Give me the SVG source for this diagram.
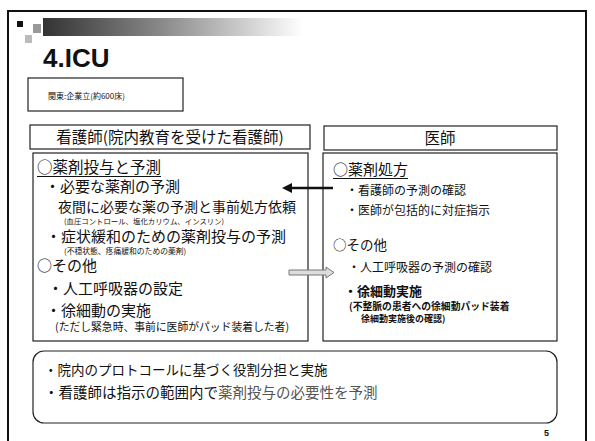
<svg xmlns="http://www.w3.org/2000/svg" width="595" height="441" viewBox="0 0 595 441">
<defs>
<linearGradient id="bar" x1="0" y1="0" x2="1" y2="0">
<stop offset="0" stop-color="#333"/>
<stop offset="0.45" stop-color="#888"/>
<stop offset="1" stop-color="#fff"/>
</linearGradient>
<marker id="head" viewBox="0 0 10 10" refX="2" refY="5" markerWidth="4" markerHeight="4" orient="auto-start-reverse">
<path d="M0,0 L10,5 L0,10 z" fill="#111"/>
</marker>
<style>
text{font-family:"Noto Sans CJK JP","Noto Sans",sans-serif;fill:#111}
.box{fill:#fff;stroke:#222;stroke-width:1.2}
.h{font-size:15.5px}
.ul{stroke:#111;stroke-width:1}
</style>
</defs>
<rect width="595" height="441" fill="#fff"/>
<g id="frame" fill="none" stroke="#111" stroke-width="2">
<path d="M8,441 V11 H586 V441"/>
</g>
<g id="header-deco">
<rect x="17" y="21" width="6" height="6" fill="#111"/>
<rect x="33" y="24" width="8" height="9" fill="#999"/>
<rect x="25" y="35" width="7" height="8" fill="#bbb"/>
<rect x="43" y="18" width="260" height="18" fill="url(#bar)"/>
<text x="43" y="67" style="font-family:'Liberation Sans',Arial,sans-serif;font-size:26px;font-weight:bold">4.ICU</text>
</g>
<g id="info">
<rect class="box" x="28" y="78" width="155" height="33"/>
<text x="48" y="99" style="font-size:8px">関東:企業立(約600床)</text>
</g>
<g id="nurse-header">
<rect class="box" x="30" y="125" width="280" height="24"/>
<text class="h" x="170" y="143" text-anchor="middle">看護師(院内教育を受けた看護師)</text>
</g>
<g id="doctor-header">
<rect class="box" x="324" y="126" width="233" height="24"/>
<text class="h" x="440" y="144" text-anchor="middle">医師</text>
</g>
<g id="nurse-box">
<rect class="box" x="33" y="153" width="275" height="188"/>
<text style="font-size:15px"><tspan x="37" y="173" style="font-size:15.5px">○薬剤投与と予測</tspan><tspan x="45" y="192">・必要な薬剤の予測</tspan><tspan x="58" y="212" style="font-size:14px">夜間に必要な薬の予測と事前処方依頼</tspan><tspan x="64" y="224" style="font-size:7.4px">(血圧コントロール、塩化カリウム、インスリン)</tspan><tspan x="46" y="241.8">・症状緩和のための薬剤投与の予測</tspan><tspan x="64" y="253.5" style="font-size:7.8px">(不穏状態、疼痛緩和のための薬剤)</tspan><tspan x="37" y="271">○その他</tspan><tspan x="48" y="294">・人工呼吸器の設定</tspan><tspan x="46" y="316">・徐細動の実施</tspan><tspan x="55" y="331" style="font-size:10.8px">(ただし緊急時、事前に医師がパッド装着した者)</tspan></text>
<line class="ul" x1="37" y1="176.5" x2="161" y2="176.5"/>
</g>
<g id="doctor-box">
<rect class="box" x="323" y="153" width="234" height="188"/>
<text style="font-size:12px"><tspan x="333" y="175" style="font-size:15px">○薬剤処方</tspan><tspan x="346" y="195">・看護師の予測の確認</tspan><tspan x="346" y="215">・医師が包括的に対症指示</tspan><tspan x="333" y="250" style="font-size:13.5px">○その他</tspan><tspan x="348" y="272">・人工呼吸器の予測の確認</tspan><tspan x="344" y="296" style="font-size:13px;font-weight:bold">・徐細動実施</tspan><tspan x="349" y="310" style="font-size:9.8px;font-weight:bold">(不整脈の患者への徐細動パッド装着</tspan><tspan x="361" y="322" style="font-size:9px;font-weight:bold">徐細動実施後の確認)</tspan></text>
<line class="ul" x1="333" y1="178.5" x2="408" y2="178.5"/>
</g>
<g id="connectors">
<line x1="333" y1="188" x2="290" y2="188" stroke="#111" stroke-width="2.5" marker-end="url(#head)"/>
<path d="M289,270 H326 V267 L334,272.5 L326,278 V275 H289 z" fill="#ddd" stroke="#777" stroke-width="1"/>
</g>
<g id="summary">
<rect x="33" y="351" width="524" height="72" rx="11" ry="11" fill="#fff" stroke="#222" stroke-width="1.2"/>
<text x="44" y="375" style="font-size:13.5px">・院内のプロトコールに基づく役割分担と実施</text>
<text x="44" y="398" style="font-size:14.5px">・看護師は指示の範囲内で<tspan style="fill:#555">薬剤投与の必要性を予測</tspan></text>
</g>
<g id="page">
<text x="544" y="436" style="font-family:'Liberation Sans',Arial,sans-serif;font-size:9px;font-weight:bold">5</text>
</g>
</svg>
